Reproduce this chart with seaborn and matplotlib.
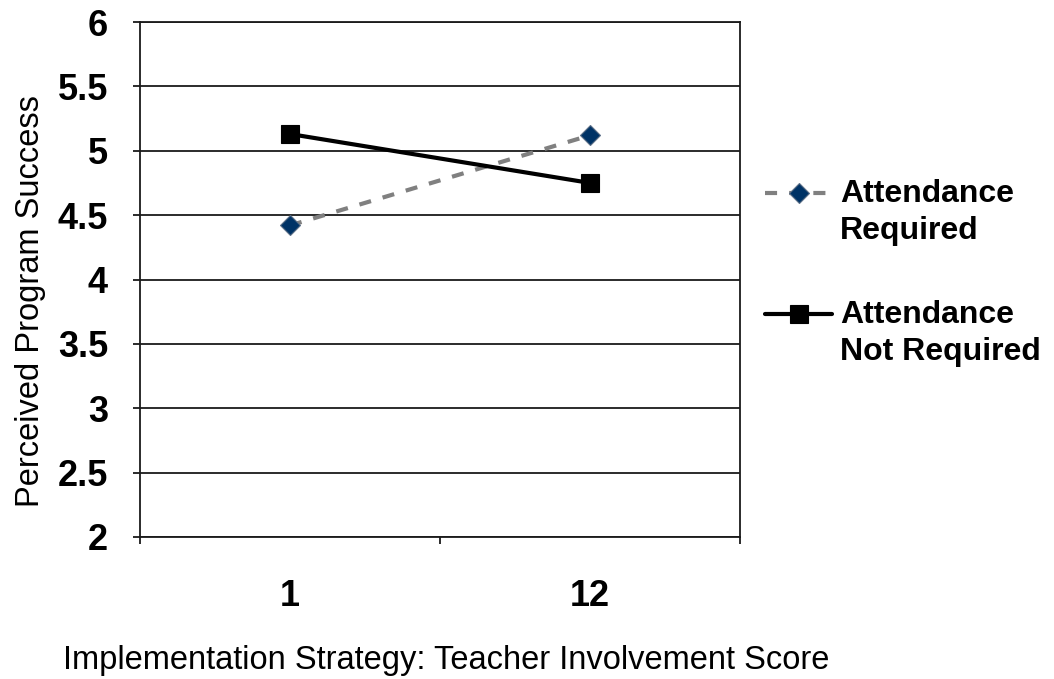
import matplotlib
matplotlib.use("Agg")
import matplotlib.pyplot as plt
from matplotlib.legend_handler import HandlerLine2D
import seaborn as sns
import pandas as pd

# Teacher involvement score levels (categorical x axis)
scores = ["1", "12"]
# Perceived program success for each attendance condition
attendance_required = [4.42, 5.12]
attendance_not_required = [5.13, 4.75]

series_names = ["Attendance\nRequired", "Attendance\nNot Required"]
y_ticks = [2, 2.5, 3, 3.5, 4, 4.5, 5, 5.5, 6]
y_tick_labels = ["2", "2.5", "3", "3.5", "4", "4.5", "5", "5.5", "6"]

sns.set_theme(style="white")
plt.rcParams["font.family"] = ["Liberation Sans", "DejaVu Sans"]
for key in ["text.color", "axes.labelcolor", "xtick.color", "ytick.color"]:
    plt.rcParams[key] = "black"

df = pd.DataFrame({
    "score": scores * 2,
    "success": attendance_required + attendance_not_required,
    "group": [series_names[0]] * 2 + [series_names[1]] * 2,
})


class FirstLineHandler(HandlerLine2D):
    """Legend handle aligned with the first line of a two-line label."""

    def create_artists(self, legend, orig_handle, xdescent, ydescent,
                       width, height, fontsize, trans):
        artists = super().create_artists(legend, orig_handle, xdescent,
                                         ydescent, width, height,
                                         fontsize, trans)
        for a in artists:
            a.set_ydata([y + 0.62 * fontsize for y in a.get_ydata()])
        return artists


fig = plt.figure(figsize=(10.54, 6.79), dpi=100)
ax = fig.add_axes([140 / 1054, 1 - 537 / 679, 600 / 1054, 515 / 679])

req = df[df["group"] == series_names[0]]
nreq = df[df["group"] == series_names[1]]

sns.lineplot(data=req, x="score", y="success", ax=ax, color="#808080",
             lw=3, dashes=False, linestyle=(0, (2.9, 2.9)), marker="D",
             markersize=10, markerfacecolor="#003366",
             markeredgecolor="#5a6e86", markeredgewidth=0.8,
             label=series_names[0], legend=False)
sns.lineplot(data=nreq, x="score", y="success", ax=ax, color="black",
             lw=3, marker="s", markersize=13, markerfacecolor="black",
             markeredgecolor="black", markeredgewidth=0.8,
             label=series_names[1], legend=False)

# Axis limits and gridlines
ax.set_xlim(-0.5, 1.5)
ax.set_ylim(2, 6)
ax.set_yticks(y_ticks)
ax.set_yticklabels(y_tick_labels, fontsize=26, fontweight="bold")
ax.yaxis.grid(True, color="#1a1a1a", lw=1.3)
ax.set_axisbelow(True)

# Category labels centered, tick marks on category boundaries
ax.set_xticks([0, 1])
ax.set_xticklabels(scores, fontsize=26, fontweight="bold")
ax.set_xticks([-0.5, 0.5, 1.5], minor=True)
ax.tick_params(axis="x", which="major", length=0, pad=30)
ax.tick_params(axis="x", which="minor", length=5, width=1.3,
               color="#1a1a1a", direction="out", bottom=True)
ax.tick_params(axis="y", which="major", length=5, width=1.3,
               color="#1a1a1a", direction="out", left=True, pad=18)

for side in ["left", "right", "top", "bottom"]:
    ax.spines[side].set_visible(True)
    ax.spines[side].set_color("#1a1a1a")
    ax.spines[side].set_linewidth(1.3)

ax.set_ylabel("Perceived Program Success", fontsize=23.5)
ax.yaxis.set_label_coords(-0.183, 0.458)
ax.set_xlabel("Implementation Strategy: Teacher Involvement Score",
              fontsize=23.5)
ax.xaxis.set_label_coords(0.51, -0.239)
ax.xaxis.label.set_verticalalignment("center")
ax.yaxis.label.set_verticalalignment("center")

handles, labels = ax.get_legend_handles_labels()
leg = fig.legend(handles, labels, loc="upper left",
                 bbox_to_anchor=(765 / 1054, 1 - 179 / 679),
                 frameon=False, borderpad=0, borderaxespad=0,
                 handlelength=2.1, handletextpad=0.25, labelspacing=1.7,
                 handler_map={h: FirstLineHandler() for h in handles},
                 prop={"size": 23, "weight": "bold"})
for t in leg.get_texts():
    t.set_linespacing(1.3)

fig.savefig("out.png", dpi=100)
